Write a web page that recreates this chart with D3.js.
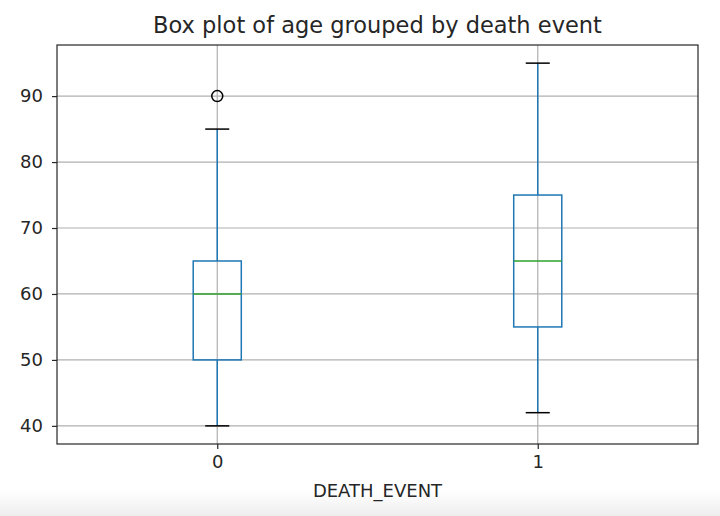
<!DOCTYPE html>
<html>
<head>
<meta charset="utf-8">
<script src="https://cdn.jsdelivr.net/npm/d3@7.9.0/dist/d3.min.js"></script>
<style>
  html, body { margin: 0; padding: 0; background: #fff; }
  svg { display: block; font-family: "DejaVu Sans", sans-serif; }
</style>
</head>
<body>
<div id="chart"></div>
<script>
// groups and their box statistics
const groups = ["0", "1"];
const whiskerLow = [40, 42];
const q1 = [50, 55];
const median = [60, 65];
const q3 = [65, 75];
const whiskerHigh = [85, 95];
const outliers = [[90], []];
const yTicks = [40, 50, 60, 70, 80, 90];

const width = 720;
const height = 516;
const margin = { top: 45, right: 22, bottom: 72, left: 57 };

const svg = d3.select("#chart").append("svg")
    .attr("width", width)
    .attr("height", height);

// faint grey band at the bottom of the screenshot
const grad = svg.append("defs").append("linearGradient")
    .attr("id", "fade").attr("x1", 0).attr("x2", 0).attr("y1", 0).attr("y2", 1);
grad.append("stop").attr("offset", "0%").attr("stop-color", "#ffffff");
grad.append("stop").attr("offset", "100%").attr("stop-color", "#eeeeee");
svg.append("rect")
    .attr("x", 0).attr("y", 490).attr("width", width).attr("height", 26)
    .attr("fill", "url(#fade)");

const x = d3.scaleLinear()
    .domain([0.5, 2.5])
    .range([margin.left, width - margin.right]);

const dataMin = d3.min(whiskerLow);
const dataMax = d3.max([...whiskerHigh, ...outliers.flat()]);
const pad = (dataMax - dataMin) * 0.05;
const y = d3.scaleLinear()
    .domain([dataMin - pad, dataMax + pad])
    .range([height - margin.bottom, margin.top]);

const boxes = groups.map((g, i) => ({
    label: g, pos: i + 1,
    lo: whiskerLow[i], q1: q1[i], med: median[i], q3: q3[i], hi: whiskerHigh[i],
    out: outliers[i]
}));

// grid lines
const grid = svg.append("g").attr("class", "grid");
grid.selectAll("line.h")
    .data(yTicks)
    .join("line")
    .attr("x1", x.range()[0]).attr("x2", x.range()[1])
    .attr("y1", d => y(d)).attr("y2", d => y(d))
    .attr("stroke", "#b0b0b0").attr("stroke-width", 1.2);
grid.selectAll("line.v")
    .data(boxes)
    .join("line")
    .attr("x1", d => x(d.pos)).attr("x2", d => x(d.pos))
    .attr("y1", y.range()[0]).attr("y2", y.range()[1])
    .attr("stroke", "#b0b0b0").attr("stroke-width", 1.2);

const boxHalf = (x(2) - x(1)) * 0.075;
const capHalf = boxHalf / 2;

const g = svg.append("g").selectAll("g")
    .data(boxes)
    .join("g");

// whiskers
g.append("line")
    .attr("x1", d => x(d.pos)).attr("x2", d => x(d.pos))
    .attr("y1", d => y(d.lo)).attr("y2", d => y(d.q1))
    .attr("stroke", "#1f77b4").attr("stroke-width", 1.5);
g.append("line")
    .attr("x1", d => x(d.pos)).attr("x2", d => x(d.pos))
    .attr("y1", d => y(d.q3)).attr("y2", d => y(d.hi))
    .attr("stroke", "#1f77b4").attr("stroke-width", 1.5);

// caps
g.selectAll("line.cap")
    .data(d => [{ pos: d.pos, v: d.lo }, { pos: d.pos, v: d.hi }])
    .join("line")
    .attr("x1", d => x(d.pos) - capHalf).attr("x2", d => x(d.pos) + capHalf)
    .attr("y1", d => y(d.v)).attr("y2", d => y(d.v))
    .attr("stroke", "#000").attr("stroke-width", 1.5);

// boxes
g.append("rect")
    .attr("x", d => x(d.pos) - boxHalf)
    .attr("width", boxHalf * 2)
    .attr("y", d => y(d.q3))
    .attr("height", d => y(d.q1) - y(d.q3))
    .attr("fill", "none")
    .attr("stroke", "#1f77b4").attr("stroke-width", 1.5);

// medians
g.append("line")
    .attr("x1", d => x(d.pos) - boxHalf).attr("x2", d => x(d.pos) + boxHalf)
    .attr("y1", d => y(d.med)).attr("y2", d => y(d.med))
    .attr("stroke", "#2ca02c").attr("stroke-width", 1.5);

// fliers
g.selectAll("circle")
    .data(d => d.out.map(v => ({ pos: d.pos, v })))
    .join("circle")
    .attr("cx", d => x(d.pos)).attr("cy", d => y(d.v))
    .attr("r", 5.5)
    .attr("fill", "none")
    .attr("stroke", "#000").attr("stroke-width", 1.5);

// axes
const yAxis = svg.append("g")
    .attr("transform", `translate(${margin.left},0)`)
    .call(d3.axisLeft(y).tickValues(yTicks).tickSize(5).tickPadding(9).tickSizeOuter(0));
const xAxis = svg.append("g")
    .attr("transform", `translate(0,${height - margin.bottom})`)
    .call(d3.axisBottom(x).tickValues(boxes.map(d => d.pos))
        .tickFormat((d, i) => groups[i]).tickSize(5).tickPadding(6.5).tickSizeOuter(0));
[xAxis, yAxis].forEach(a => {
    a.select(".domain").remove();
    a.selectAll("text").attr("font-size", 18).attr("fill", "#262626")
        .attr("font-family", "DejaVu Sans, sans-serif");
    a.selectAll(".tick line").attr("stroke", "#262626").attr("stroke-width", 1.2);
});

// frame
svg.append("rect")
    .attr("x", margin.left).attr("y", margin.top)
    .attr("width", width - margin.left - margin.right)
    .attr("height", height - margin.top - margin.bottom)
    .attr("fill", "none").attr("stroke", "#262626").attr("stroke-width", 1.2);

// title and label
svg.append("text")
    .attr("x", (x.range()[0] + x.range()[1]) / 2).attr("y", 33)
    .attr("text-anchor", "middle")
    .attr("font-size", 22.5).attr("fill", "#262626")
    .text("Box plot of age grouped by death event");
svg.append("text")
    .attr("x", (x.range()[0] + x.range()[1]) / 2).attr("y", 497)
    .attr("text-anchor", "middle")
    .attr("font-size", 18).attr("fill", "#262626")
    .text("DEATH_EVENT");
</script>
</body>
</html>
